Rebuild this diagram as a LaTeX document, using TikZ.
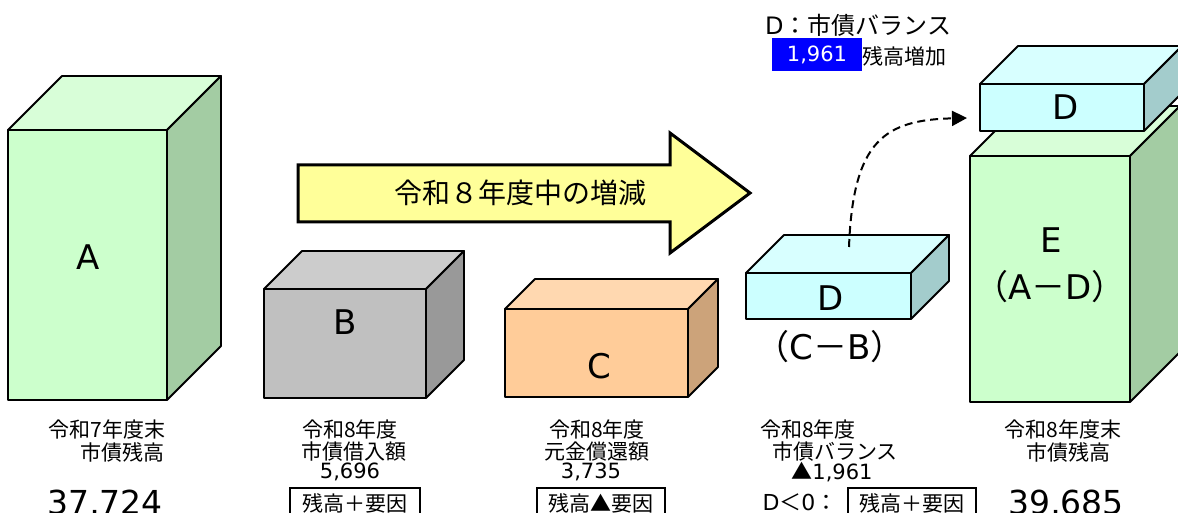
\documentclass[tikz,border=0pt]{standalone}
\usepackage{fontspec}
\setmainfont{Noto Sans CJK JP}
\newfontfamily\lat{DejaVu Sans}
\usetikzlibrary{arrows.meta}
\definecolor{gfront}{HTML}{CCFFCC}
\definecolor{gtop}{HTML}{D8FED8}
\definecolor{gside}{HTML}{A3CCA3}
\definecolor{kfront}{HTML}{C0C0C0}
\definecolor{ktop}{HTML}{CCCCCC}
\definecolor{kside}{HTML}{999999}
\definecolor{ofront}{HTML}{FFCC99}
\definecolor{otop}{HTML}{FFD8B0}
\definecolor{oside}{HTML}{CCA37A}
\definecolor{cfront}{HTML}{CCFFFF}
\definecolor{ctop}{HTML}{D8FFFF}
\definecolor{cside}{HTML}{A3CCCC}
\definecolor{yarrow}{HTML}{FFFF99}
\newcommand{\drawbox}[8]{%
  \filldraw[boxline, fill=#7] (#1,#2) -- (#1+#5,#2-#5) -- (#3+#5,#2-#5) -- (#3,#2) -- cycle;
  \filldraw[boxline, fill=#8] (#3,#2) -- (#3+#5,#2-#5) -- (#3+#5,#4-#5) -- (#3,#4) -- cycle;
  \filldraw[boxline, fill=#6] (#1,#2) rectangle (#3,#4);
}
\tikzset{
  boxline/.style={draw=black, line width=1.8pt, line join=round},
  lbl/.style={inner sep=0pt, font=\fontsize{21}{25}\selectfont},
  letter/.style={inner sep=0pt, font=\lat\fontsize{34}{40}\selectfont},
  paren/.style={inner sep=0pt, font=\fontsize{34}{40}\selectfont},
  bignum/.style={inner sep=0pt, anchor=base, font=\lat\fontsize{33}{40}\selectfont},
  tagbox/.style={draw=black, line width=1.5pt, inner sep=0pt, minimum width=#1, minimum height=30pt, font=\fontsize{21}{25}\selectfont},
}
\begin{document}
\begin{tikzpicture}[x=1pt,y=-1pt]
\useasboundingbox (0,0) rectangle (1178,513);
\clip (0,0) rectangle (1178,513);
% cuboids
\drawbox{8}{130}{167}{400}{54}{gfront}{gtop}{gside}
\drawbox{264}{289}{426}{398}{38}{kfront}{ktop}{kside}
\drawbox{505}{309}{688}{397}{30}{ofront}{otop}{oside}
\drawbox{746}{273}{911}{319}{38}{cfront}{ctop}{cside}
\drawbox{970}{156}{1130}{402}{50}{gfront}{gtop}{gside}
\drawbox{980}{84}{1144}{131}{38}{cfront}{ctop}{cside}
% big yellow arrow
\filldraw[draw=black, line width=3pt, line join=miter, fill=yarrow]
  (298,165) -- (670,165) -- (670,133) -- (750,193) -- (670,253) -- (670,222) -- (298,222) -- cycle;
\node[inner sep=0pt, font=\fontsize{28}{32}\selectfont] (arrtxt) at (520,193) {令和８年度中の増減};
% letters
\node[letter] (la) at (88,257) {A};
\node[letter] (lb) at (345,322) {B};
\node[letter] (lc) at (599,366) {C};
\node[letter] (ld) at (831,298) {D};
\node[letter] (ldt) at (1066,107) {D};
\node[letter] (le) at (1051,240) {E};
\node[paren] (lad) at (1050,287) {（{\lat A}－{\lat D}）};
\node[paren] (lcb) at (830,347) {（{\lat C}－{\lat B}）};
% dashed arrow
\coordinate (arrstart) at (849,247);
\coordinate (arrend) at (967,118);
\draw[line width=2pt, dash pattern=on 8pt off 5pt, -{Triangle[length=15pt,width=15pt]}]
  (arrstart) .. controls (853,140) and (885,120) .. (arrend);
% top legend
\node[lbl, font=\fontsize{24}{28}\selectfont] (dtitle) at (858,25) {{\lat D}：市債バランス};
\node[fill=blue, text=white, inner sep=0pt, minimum width=90pt, minimum height=33pt, font=\lat\fontsize{21}{25}\selectfont] (blue) at (817,54.5) {1,961};
\node[lbl] (zoka) at (904,56) {残高増加};
% labels A
\node[lbl] (a1) at (107,429) {令和7年度末};
\node[lbl] (a2) at (122,452) {市債残高};
\node[bignum] (a3) at (105,514) {37,724};
% labels B
\node[lbl] (b1) at (350,429) {令和8年度};
\node[lbl] (b2) at (354,452) {市債借入額};
\node[lbl, font=\lat\fontsize{21}{25}\selectfont] (b3) at (350,472) {5,696};
\node[tagbox=130pt] (b4) at (355,503) {残高＋要因};
% labels C
\node[lbl] (c1) at (597,429) {令和8年度};
\node[lbl] (c2) at (597,452) {元金償還額};
\node[lbl, font=\lat\fontsize{21}{25}\selectfont] (c3) at (591,472) {3,735};
\node[tagbox=128pt] (c4) at (601,503) {残高▲要因};
% labels D
\node[lbl] (d1) at (808,429) {令和8年度};
\node[lbl] (d2) at (835,452) {市債バランス};
\node[lbl] (d3) at (832,472) {▲{\lat 1,961}};
\node[lbl, font=\fontsize{22}{26}\selectfont] (d4) at (800,502) {{\lat D}＜{\lat 0}：};
\node[tagbox=128pt] (d5) at (912,503) {残高＋要因};
% labels E
\node[lbl] (e1) at (1063,429) {令和8年度末};
\node[lbl] (e2) at (1068,452) {市債残高};
\node[bignum] (e3) at (1066,514) {39,685};
\end{tikzpicture}
\end{document}
